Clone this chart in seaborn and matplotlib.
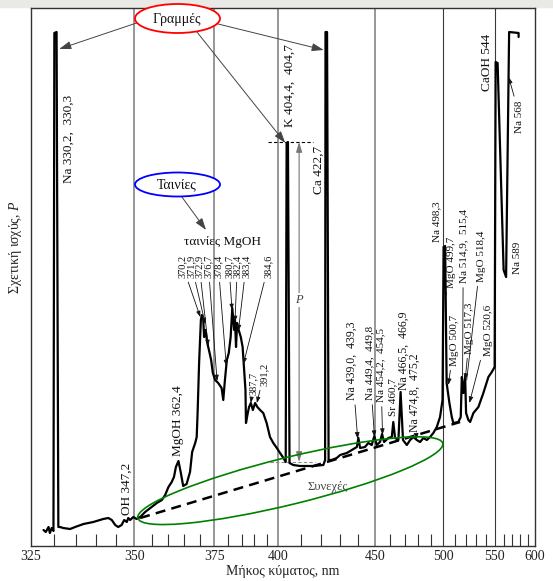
import numpy as np
import matplotlib
matplotlib.use("Agg")
import matplotlib.pyplot as plt
from matplotlib.patches import Ellipse, Rectangle
from matplotlib.transforms import IdentityTransform
from matplotlib.ticker import FixedLocator, FormatStrFormatter, NullFormatter
import seaborn as sns

# flame emission trace (nm, relative power)
spectrum_nm = [327.7, 328.2, 328.8, 329.1, 329.5, 329.9, 330.1, 330.6, 331.0, 331.4,
               332.1, 333.7, 334.9, 336.9, 339.3, 341.8, 343.1, 344.0, 344.9, 345.7,
               346.6, 347.3, 348.0, 348.4, 348.9, 349.8, 350.7, 351.7, 353.1, 355.0,
               356.5, 358.0, 359.0, 360.0, 361.0, 361.7, 362.3, 363.1, 363.8, 364.6,
               365.7, 366.8, 367.5, 368.5, 369.0, 369.3, 369.8, 370.4, 370.7, 371.2,
               371.5, 372.0, 372.5, 373.3, 373.9, 374.5, 375.3, 376.4, 377.6, 378.2,
               378.8, 379.5, 380.2, 380.9, 381.5, 382.2, 382.5, 382.9, 383.3, 383.9,
               384.7, 385.4, 385.9, 386.5, 386.7, 387.4, 387.9, 388.6, 389.4, 390.3,
               391.2, 392.3, 393.6, 395.0, 396.4, 397.8, 399.3, 400.7, 402.2, 403.2,
               403.6, 404.2, 404.9, 406.6, 409.7, 416.1, 421.1, 422.0, 422.2, 423.0,
               423.8, 425.4, 428.1, 429.9, 433.6, 436.4, 439.3, 440.2, 441.2, 444.1,
               446.1, 448.2, 449.8, 451.3, 453.4, 454.7, 456.0, 458.8, 461.1, 462.1,
               463.3, 465.6, 467.1, 468.8, 471.5, 473.9, 476.3, 478.8, 481.3, 483.8,
               486.5, 489.1, 491.7, 494.5, 497.2, 499.3, 500.2, 501.5, 502.8, 505.2,
               507.3, 508.7, 513.2, 515.4, 516.4, 517.9, 519.5, 520.4, 522.6, 524.3,
               527.5, 532.5, 537.6, 542.9, 546.6, 549.7, 550.8, 553.0, 559.9, 562.8,
               566.4, 578.1, 578.1]
spectrum_p = [16, 14, 19, 13, 18, 15, 513, 514, 19, 19,
              18, 17, 19, 22, 24, 27, 28, 26, 21, 19,
              21, 26, 24, 28, 26, 29, 27, 29, 34, 39,
              43, 46, 51, 59, 64, 69, 79, 85, 74, 60,
              62, 74, 94, 103, 109, 133, 183, 226, 231, 226,
              209, 216, 204, 194, 186, 173, 166, 163, 158, 146,
              166, 186, 193, 209, 238, 216, 226, 199, 223, 216,
              209, 199, 179, 156, 123, 133, 139, 143, 136, 143,
              139, 136, 133, 123, 109, 103, 98, 93, 88, 84,
              403, 404, 83, 81, 80, 80, 81, 86, 514, 514,
              86, 86, 88, 91, 93, 96, 99, 108, 98, 99,
              103, 101, 110, 101, 104, 112, 104, 108, 109, 124,
              108, 106, 154, 106, 101, 106, 109, 106, 104, 108,
              106, 109, 113, 119, 129, 146, 299, 300, 163, 143,
              129, 123, 124, 129, 169, 153, 170, 133, 126, 124,
              133, 139, 153, 169, 174, 179, 484, 483, 276, 269,
              514, 513, 509]
assert len(spectrum_nm) == len(spectrum_p)

# dashed continuum under the bands/lines
continuum_nm = [351.7, 514.8]
continuum_p = [28, 124]

# helper levels for the K-line height P
k_top_nm = [395.6, 416.0]
k_top_p = [404, 404]
k_base_nm = [396.4, 416.8]
k_base_p = [84, 84]

major_ticks = [325, 350, 375, 400, 450, 500, 550, 600]
minor_ticks = [330, 335, 340, 345, 355, 360, 365, 370, 380, 385, 390, 395,
               410, 420, 430, 440, 460, 470, 480, 490, 510, 520, 530, 540,
               560, 570, 580, 590]
grid_nm = [350, 375, 400, 450, 500, 550]


def to_u(x):
    # prism dispersion: position ~ -1/(lambda - 150)
    return -1.0 / (np.asarray(x, dtype=float) - 150.0)


def from_u(u):
    with np.errstate(divide="ignore"):
        return 150.0 - 1.0 / np.asarray(u, dtype=float)


sns.set_theme(style="white")
plt.rcParams["font.family"] = ["Liberation Serif", "DejaVu Serif"]
plt.rcParams["mathtext.fontset"] = "custom"
plt.rcParams["mathtext.it"] = "Liberation Serif:italic"
plt.rcParams["mathtext.rm"] = "Liberation Serif"

W, H = 553, 581
fig = plt.figure(figsize=(W / 100, H / 100), dpi=100)
ax = fig.add_axes([31 / W, (H - 546) / H, 504 / W, 538 / H])

for x in grid_nm:
    ax.axvline(x, color="#7a7a7a" if x < 500 else "#3a3a3a",
               lw=1.1 if x < 500 else 0.8, zorder=0)

sns.lineplot(x=spectrum_nm, y=spectrum_p, sort=False, estimator=None,
             color="black", linewidth=1.6, ax=ax, zorder=3)
sns.lineplot(x=continuum_nm, y=continuum_p, color="black", linewidth=1.8,
             linestyle=(0, (4, 2.5)), ax=ax, zorder=2)
sns.lineplot(x=k_top_nm, y=k_top_p, color="black", linewidth=0.8,
             linestyle=(0, (3, 2)), ax=ax)
sns.lineplot(x=k_base_nm, y=k_base_p, color="#888888", linewidth=0.8,
             linestyle=(0, (3, 2)), ax=ax)

ax.set_xscale("function", functions=(to_u, from_u))
ax.set_xlim(325, 600)
ax.set_ylim(0, 538)

ax.xaxis.set_major_locator(FixedLocator(major_ticks))
ax.xaxis.set_minor_locator(FixedLocator(minor_ticks))
ax.xaxis.set_major_formatter(FormatStrFormatter("%d"))
ax.xaxis.set_minor_formatter(NullFormatter())
ax.tick_params(axis="x", which="major", length=0, pad=3, labelsize=10, colors="#222")
ax.tick_params(axis="x", which="minor", bottom=True, direction="in",
               length=9, width=0.8, color="#333")
ax.set_yticks([])

for s in ax.spines.values():
    s.set_visible(True)
    s.set_color("#333")
    s.set_linewidth(1.0)

ax.set_xlabel("Μήκος κύματος, nm", fontsize=10, color="#222")
ax.xaxis.set_label_coords(0.5, -0.036)
ax.set_ylabel("Σχετική ισχύς, $P$", fontsize=10, color="#222")
ax.yaxis.set_label_coords(-0.014, 0.556)


def fpx(px, py):
    return (px, H - py)


# rotated line labels: text, centre (px), size, arrow target, style
labels = [
    ("Na 330,2,  330,3", 68.3, 139, 9.5, None, None),
    ("K 404,4,  404,7", 290, 86, 9.5, None, None),
    ("Ca 422,7", 318.5, 170, 9.5, None, None),
    ("CaOH 544", 486.7, 62, 9.5, None, None),
    ("OH 347,2", 126.7, 489, 9.5, None, None),
    ("MgOH 362,4", 178.3, 421, 9.5, None, None),
    ("Na 498,3", 437, 222, 8, None, None),
    ("MgO 499,7", 451.7, 262, 8, (502.3, 250), "-"),
    ("Na 514,9,  515,4", 463.3, 246, 8, (517.1, 169), "-"),
    ("MgO 518,4", 481, 256, 8, (521.0, 166), "-"),
    ("MgO 500,7", 454.5, 340, 8, (504.3, 161), "-|>"),
    ("MgO 517,3", 470, 328, 8, (519.6, 166), "-|>"),
    ("MgO 520,6", 488.3, 330, 8, (523.6, 143), "-|>"),
    ("Na 439,0,  439,3", 351.7, 361, 8.5, (439.8, 107), "-|>"),
    ("Na 449,4,  449,8", 369.5, 363, 8, (449.9, 109), "-|>"),
    ("Na 454,2,  454,5", 380.7, 365, 8, (455.0, 111), "-|>"),
    ("Sr 460,7", 392.3, 397, 8, None, None),
    ("Na 466,5,  466,9", 403.3, 351, 8.5, None, None),
    ("Na 474,8,  475,2", 415, 393, 8.5, (478.5, 106), "-|>"),
    ("Na 568", 520, 117, 8, (565.8, 469), "-|>"),
    ("Na 589", 518, 258, 8, None, None),
    ("370,2", 182.7, 266, 7.5, (370.2, 229), "-|>"),
    ("371,9", 191.7, 266, 7.5, (371.9, 222), "-|>"),
    ("372,9", 199.3, 266, 7.5, (372.9, 200), "-|>"),
    ("376,7", 208.3, 266, 7.5, (376.0, 165), "-|>"),
    ("378,4", 218.3, 266, 7.5, (379.3, 180), "-|>"),
    ("380,7", 229, 266, 7.5, (381.4, 236), "-|>"),
    ("382,4", 237.3, 266, 7.5, (382.5, 224), "-|>"),
    ("383,4", 246, 266, 7.5, (383.8, 215), "-|>"),
    ("384,6", 268.3, 266, 7.5, (385.7, 182), "-|>"),
    ("387,7", 253.5, 383, 7.5, (388.6, 143), "-|>"),
    ("391,2", 264, 374, 7.5, (391.0, 143), "-|>"),
]
for text, px, py, size, target, style in labels:
    if target is None:
        ax.annotate(text, xy=fpx(px, py), xycoords="figure pixels", rotation=90,
                    ha="center", va="center", fontsize=size, color="#111")
    else:
        head = style + (",head_length=0.45,head_width=0.16" if style == "-|>" else "")
        ax.annotate(text, xy=target, xycoords="data", xytext=fpx(px, py),
                    textcoords="figure pixels", rotation=90, ha="center",
                    va="center", fontsize=size, color="#111",
                    arrowprops=dict(arrowstyle=head, color="#111", lw=0.6,
                                    shrinkA=1, shrinkB=0))

ax.annotate("ταινίες MgOH", xy=fpx(222.5, 241.7), xycoords="figure pixels",
            ha="center", va="center", fontsize=9.5, color="#111")
ax.annotate("Συνεχές", xy=fpx(328, 487), xycoords="figure pixels",
            ha="center", va="center", fontsize=9, color="#444")

# height of K line, P
ax.annotate("", xy=(409.3, 404), xytext=(409.3, 84),
            arrowprops=dict(arrowstyle="<|-|>,head_length=0.5,head_width=0.15",
                            color="#777", lw=0.8, shrinkA=0, shrinkB=0))
ax.text(409.3, 246, "P", style="italic", ha="center", va="center", fontsize=9,
        color="#444", bbox=dict(fc="white", ec="none", pad=1))

# callouts "Γραμμές" (lines) and "Ταινίες" (bands)
arrow_kw = dict(arrowstyle="-|>,head_length=0.6,head_width=0.2", color="#444",
                lw=0.7, shrinkA=0, shrinkB=0)
ax.annotate("", xy=(331.2, 497), xytext=fpx(138, 22.5), textcoords="figure pixels",
            arrowprops=arrow_kw, annotation_clip=False)
ax.annotate("", xy=(403.0, 403), xytext=fpx(196.7, 31.7), textcoords="figure pixels",
            arrowprops=arrow_kw, annotation_clip=False)
ax.annotate("", xy=(421.3, 496), xytext=fpx(210, 22), textcoords="figure pixels",
            arrowprops=arrow_kw, annotation_clip=False)
ax.annotate("", xy=fpx(206, 230), xycoords="figure pixels",
            xytext=fpx(181.7, 196.7), textcoords="figure pixels",
            arrowprops=arrow_kw)

fig.add_artist(Rectangle((0, H - 7), W, 7, transform=IdentityTransform(),
                         color="#e9e9e6", zorder=-1))
fig.add_artist(Ellipse((177.5, H - 18.5), 85, 29, transform=IdentityTransform(),
                       fc="white", ec="red", lw=1.3, zorder=2))
fig.add_artist(Ellipse((177.5, H - 184.5), 85, 24, transform=IdentityTransform(),
                       fc="white", ec="blue", lw=1.3, zorder=2))
fig.add_artist(Ellipse((290.3, H - 480.7), 314, 47, angle=13.8,
                       transform=IdentityTransform(), fill=False,
                       ec="green", lw=1.2, zorder=2))
fig.text(176.7 / W, 1 - 20 / H, "Γραμμές", ha="center", va="center",
         fontsize=10, color="#111", zorder=3)
fig.text(176.7 / W, 1 - 184.3 / H, "Ταινίες", ha="center", va="center",
         fontsize=10, color="#111", zorder=3)

fig.savefig("out.png", dpi=100)
